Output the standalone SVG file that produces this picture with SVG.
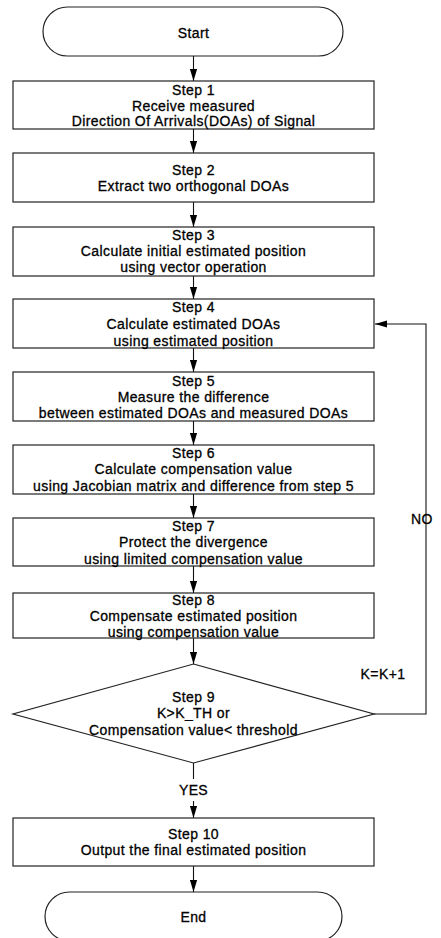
<svg xmlns="http://www.w3.org/2000/svg" width="441" height="938" viewBox="0 0 441 938">
<style>
.box{fill:#fff;stroke:#222;stroke-width:1.2}
.t{font-family:"Liberation Sans",Arial,sans-serif;font-size:14px;letter-spacing:0.4px;fill:#000;stroke:#000;stroke-width:0.3;text-anchor:middle}
.c{fill:none;stroke:#111;stroke-width:1.1}
</style>
<defs>
<marker id="ah" markerUnits="userSpaceOnUse" markerWidth="12" markerHeight="8" refX="12" refY="4" orient="auto">
<path d="M0,0.4 L12,4 L0,7.6 z" fill="#000"/>
</marker>
</defs>
<rect width="441" height="938" fill="#fff"/>
<g id="connectors">
<line class="c" x1="193.5" y1="56" x2="193.5" y2="81" marker-end="url(#ah)"/>
<line class="c" x1="193.5" y1="129" x2="193.5" y2="153" marker-end="url(#ah)"/>
<line class="c" x1="193.5" y1="202" x2="193.5" y2="227" marker-end="url(#ah)"/>
<line class="c" x1="193.5" y1="276" x2="193.5" y2="299" marker-end="url(#ah)"/>
<line class="c" x1="193.5" y1="348" x2="193.5" y2="372" marker-end="url(#ah)"/>
<line class="c" x1="193.5" y1="421" x2="193.5" y2="445" marker-end="url(#ah)"/>
<line class="c" x1="193.5" y1="494" x2="193.5" y2="518" marker-end="url(#ah)"/>
<line class="c" x1="193.5" y1="566" x2="193.5" y2="593" marker-end="url(#ah)"/>
<line class="c" x1="193.5" y1="638" x2="193.5" y2="664" marker-end="url(#ah)"/>
<line class="c" x1="193.5" y1="763" x2="193.5" y2="779"/>
<line class="c" x1="193.5" y1="801" x2="193.5" y2="818" marker-end="url(#ah)"/>
<line class="c" x1="193.5" y1="866" x2="193.5" y2="892" marker-end="url(#ah)"/>
<polyline class="c" points="374,714 426,714 426,324 375,324" marker-end="url(#ah)"/>
<text class="t" x="193.5" y="795">YES</text>
<text class="t" x="422" y="524">NO</text>
<text class="t" x="383" y="679">K=K+1</text>
</g>
<g id="start">
<rect class="box" x="43" y="7" width="300" height="49" rx="24.5" ry="24.5"/>
<text class="t" x="193.5" y="38">Start</text>
</g>
<g id="step1">
<rect class="box" x="13" y="81" width="361" height="48"/>
<text class="t" x="193.5" y="95">Step 1</text>
<text class="t" x="193.5" y="110.5">Receive measured</text>
<text class="t" x="193.5" y="126">Direction Of Arrivals(DOAs) of Signal</text>
</g>
<g id="step2">
<rect class="box" x="13" y="153" width="361" height="49"/>
<text class="t" x="193.5" y="175">Step 2</text>
<text class="t" x="193.5" y="191">Extract two orthogonal DOAs</text>
</g>
<g id="step3">
<rect class="box" x="13" y="227" width="361" height="49"/>
<text class="t" x="193.5" y="239.5">Step 3</text>
<text class="t" x="193.5" y="255.5">Calculate initial estimated position</text>
<text class="t" x="193.5" y="271.5">using vector operation</text>
</g>
<g id="step4">
<rect class="box" x="13" y="299" width="361" height="49"/>
<text class="t" x="193.5" y="312">Step 4</text>
<text class="t" x="193.5" y="328.5">Calculate estimated DOAs</text>
<text class="t" x="193.5" y="345.5">using estimated position</text>
</g>
<g id="step5">
<rect class="box" x="13" y="372" width="361" height="49"/>
<text class="t" x="193.5" y="385.5">Step 5</text>
<text class="t" x="193.5" y="402">Measure the difference</text>
<text class="t" x="193.5" y="418">between estimated DOAs and measured DOAs</text>
</g>
<g id="step6">
<rect class="box" x="13" y="445" width="361" height="49"/>
<text class="t" x="193.5" y="458">Step 6</text>
<text class="t" x="193.5" y="474">Calculate compensation value</text>
<text class="t" x="193.5" y="491">using Jacobian matrix and difference from step 5</text>
</g>
<g id="step7">
<rect class="box" x="13" y="518" width="361" height="48"/>
<text class="t" x="193.5" y="530.5">Step 7</text>
<text class="t" x="193.5" y="547">Protect the divergence</text>
<text class="t" x="193.5" y="563.5">using limited compensation value</text>
</g>
<g id="step8">
<rect class="box" x="13" y="593" width="361" height="45"/>
<text class="t" x="193.5" y="605">Step 8</text>
<text class="t" x="193.5" y="621">Compensate estimated position</text>
<text class="t" x="193.5" y="636.5">using compensation value</text>
</g>
<g id="step9">
<polygon class="box" points="193.5,664 374,714 193.5,763 13,714"/>
<text class="t" x="193.5" y="702">Step 9</text>
<text class="t" x="193.5" y="718">K&gt;K_TH or</text>
<text class="t" x="193.5" y="735">Compensation value&lt; threshold</text>
</g>
<g id="step10">
<rect class="box" x="13" y="818" width="361" height="48"/>
<text class="t" x="193.5" y="838.5">Step 10</text>
<text class="t" x="193.5" y="854.5">Output the final estimated position</text>
</g>
<g id="end">
<rect class="box" x="45" y="892" width="297" height="49" rx="24.5" ry="24.5"/>
<text class="t" x="193.5" y="921.5">End</text>
</g>
</svg>
